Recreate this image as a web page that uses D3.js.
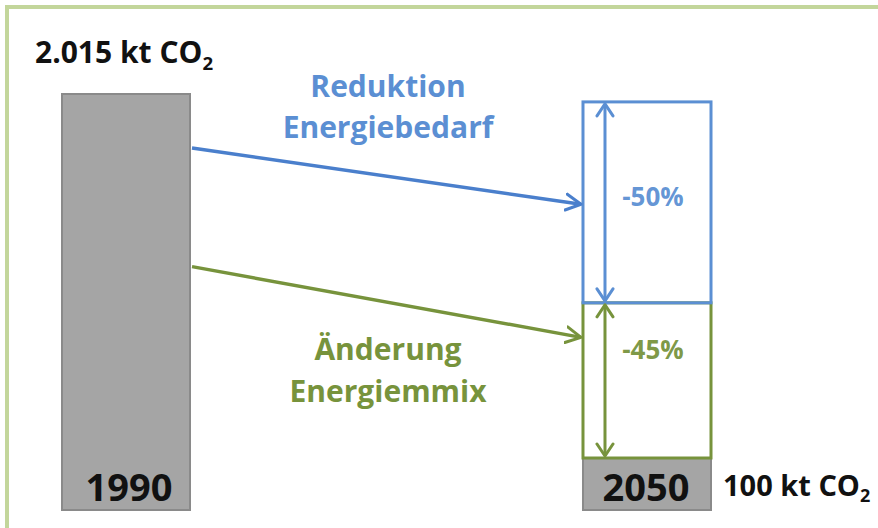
<!DOCTYPE html>
<html><head><meta charset="utf-8">
<script src="https://cdn.jsdelivr.net/npm/d3@7/dist/d3.min.js"></script>
<style>
html,body{margin:0;padding:0;background:#fff;}
svg{display:block;}
text{font-family:"Open Sans",Lato,sans-serif;font-weight:bold;}
</style></head>
<body>
<svg id="chart" width="878" height="528"></svg>
<script>
// ---- data ----
const years = ["1990", "2050"];
const emissionsKt = [2015, 100];                     // kt CO2
const emissionLabels = ["2.015 kt CO", "100 kt CO"]; // + subscript 2
const barHeights = [100, 12.5];                      // schematic bar heights (not to scale)
const stepNames = [["Reduktion", "Energiebedarf"], ["Änderung", "Energiemmix"]];
const stepLabels = ["-50%", "-45%"];
const stepHeights = [48.3, 37.3];                    // schematic heights of the 2050 stack
const stepColors = ["#5b8fd3", "#77933c"];
const arrowColors = ["#4a7fcc", "#77933c"];
const arrowStartLevels = [87, 58.5];                 // where arrows leave the 1990 bar
const arrowEndLevels = [73.5, 41.5];                 // where arrows hit the 2050 stack

const svg = d3.select("#chart");
const W = 878, H = 528;

// frame (top + left only visible)
svg.append("rect").attr("x", 5).attr("y", 5).attr("width", W).attr("height", 4).attr("fill", "#c3d69b");
svg.append("rect").attr("x", 5).attr("y", 5).attr("width", 4).attr("height", H).attr("fill", "#c3d69b");

const x = d3.scaleBand().domain(years).range([62, 711]).paddingInner(0.7543).paddingOuter(0);
const y = d3.scaleLinear().domain([0, 100]).range([510, 94]);
const bw = x.bandwidth();

// defs: arrow markers
const defs = svg.append("defs");
arrowColors.forEach((c, i) => {
  defs.append("marker").attr("id", "head" + i)
    .attr("viewBox", "-16 -10 18 20").attr("refX", 0).attr("refY", 0)
    .attr("markerWidth", 18).attr("markerHeight", 20)
    .attr("markerUnits", "userSpaceOnUse").attr("orient", "auto")
    .append("path").attr("d", "M-15,-8L0,0L-15,8")
    .attr("fill", "none").attr("stroke", c).attr("stroke-width", 3)
    .attr("stroke-linecap", "round").attr("stroke-linejoin", "round");
  defs.append("marker").attr("id", "vhead" + i)
    .attr("viewBox", "-14 -10 16 20").attr("refX", 0).attr("refY", 0)
    .attr("markerWidth", 16).attr("markerHeight", 20)
    .attr("markerUnits", "userSpaceOnUse").attr("orient", "auto-start-reverse")
    .append("path").attr("d", "M-12,-8L0,0L-12,8")
    .attr("fill", "none").attr("stroke", stepColors[i]).attr("stroke-width", 3)
    .attr("stroke-linecap", "round").attr("stroke-linejoin", "round");
});

// grey bars
svg.selectAll("rect.bar").data(years).join("rect").attr("class", "bar")
  .attr("x", d => x(d)).attr("width", bw)
  .attr("y", (d, i) => y(barHeights[i])).attr("height", (d, i) => y(0) - y(barHeights[i]))
  .attr("fill", "#a5a5a5").attr("stroke", "#8a8a8a").attr("stroke-width", 2);

// 2050 stacked outline boxes
let base = barHeights[1];
const segs = stepHeights.map((h, i) => ({h, i})).reverse(); // green at bottom, blue on top
segs.forEach(s => { s.y0 = base; s.y1 = base + s.h; base += s.h; });
svg.selectAll("rect.seg").data(segs).join("rect").attr("class", "seg")
  .attr("x", x("2050")).attr("width", bw)
  .attr("y", d => y(d.y1)).attr("height", d => y(d.y0) - y(d.y1))
  .attr("fill", "none").attr("stroke", d => stepColors[d.i]).attr("stroke-width", 3);

// vertical double arrows
const vx = x("2050") + 22;
svg.selectAll("line.v").data(segs).join("line").attr("class", "v")
  .attr("x1", vx).attr("x2", vx)
  .attr("y1", d => y(d.y1) + 2).attr("y2", d => y(d.y0) - 2)
  .attr("stroke", d => stepColors[d.i]).attr("stroke-width", 3)
  .attr("marker-start", d => `url(#vhead${d.i})`).attr("marker-end", d => `url(#vhead${d.i})`);

// percentage labels
svg.selectAll("text.pct").data(segs).join("text").attr("class", "pct")
  .attr("x", x("2050") + bw / 2 + 6)
  .attr("y", d => d.i === 0 ? y(d.y1) + 104 : y(d.y1) + 56)
  .attr("text-anchor", "middle").attr("font-size", 26)
  .attr("fill", d => stepColors[d.i]).attr("fill-opacity", 0.95)
  .text(d => stepLabels[d.i]);

// diagonal arrows
svg.selectAll("line.diag").data(arrowColors).join("line").attr("class", "diag")
  .attr("x1", x("1990") + bw + 2).attr("y1", (d, i) => y(arrowStartLevels[i]))
  .attr("x2", x("2050") - 2).attr("y2", (d, i) => y(arrowEndLevels[i]))
  .attr("stroke", d => d).attr("stroke-width", 3.5)
  .attr("marker-end", (d, i) => `url(#head${i})`);

// step names
const nameX = 388;
const nameY = [[97, 138], [360, 402]];
stepNames.forEach((lines, i) => {
  lines.forEach((t, j) => {
    svg.append("text").attr("x", nameX).attr("y", nameY[i][j])
      .attr("text-anchor", "middle").attr("font-size", 30)
      .attr("fill", stepColors[i]).text(t);
  });
});

// year labels inside bars
svg.selectAll("text.year").data(years).join("text").attr("class", "year")
  .attr("x", d => x(d) + bw / 2 + (d === "2050" ? -1 : 3)).attr("y", 501)
  .attr("text-anchor", "middle").attr("font-size", 38).attr("fill", "#111")
  .text(d => d);

// emission labels
function co2(sel, xx, yy, label, fs) {
  const t = sel.append("text").attr("x", xx).attr("y", yy).attr("font-size", fs).attr("fill", "#111");
  t.append("tspan").text(label);
  t.append("tspan").attr("font-size", fs * 0.62).attr("dy", fs * 0.22).text("2");
}
co2(svg, 35, 63, emissionLabels[0], 30);
co2(svg, x("2050") + bw + 12, 496, emissionLabels[1], 29);
</script>
</body></html>
